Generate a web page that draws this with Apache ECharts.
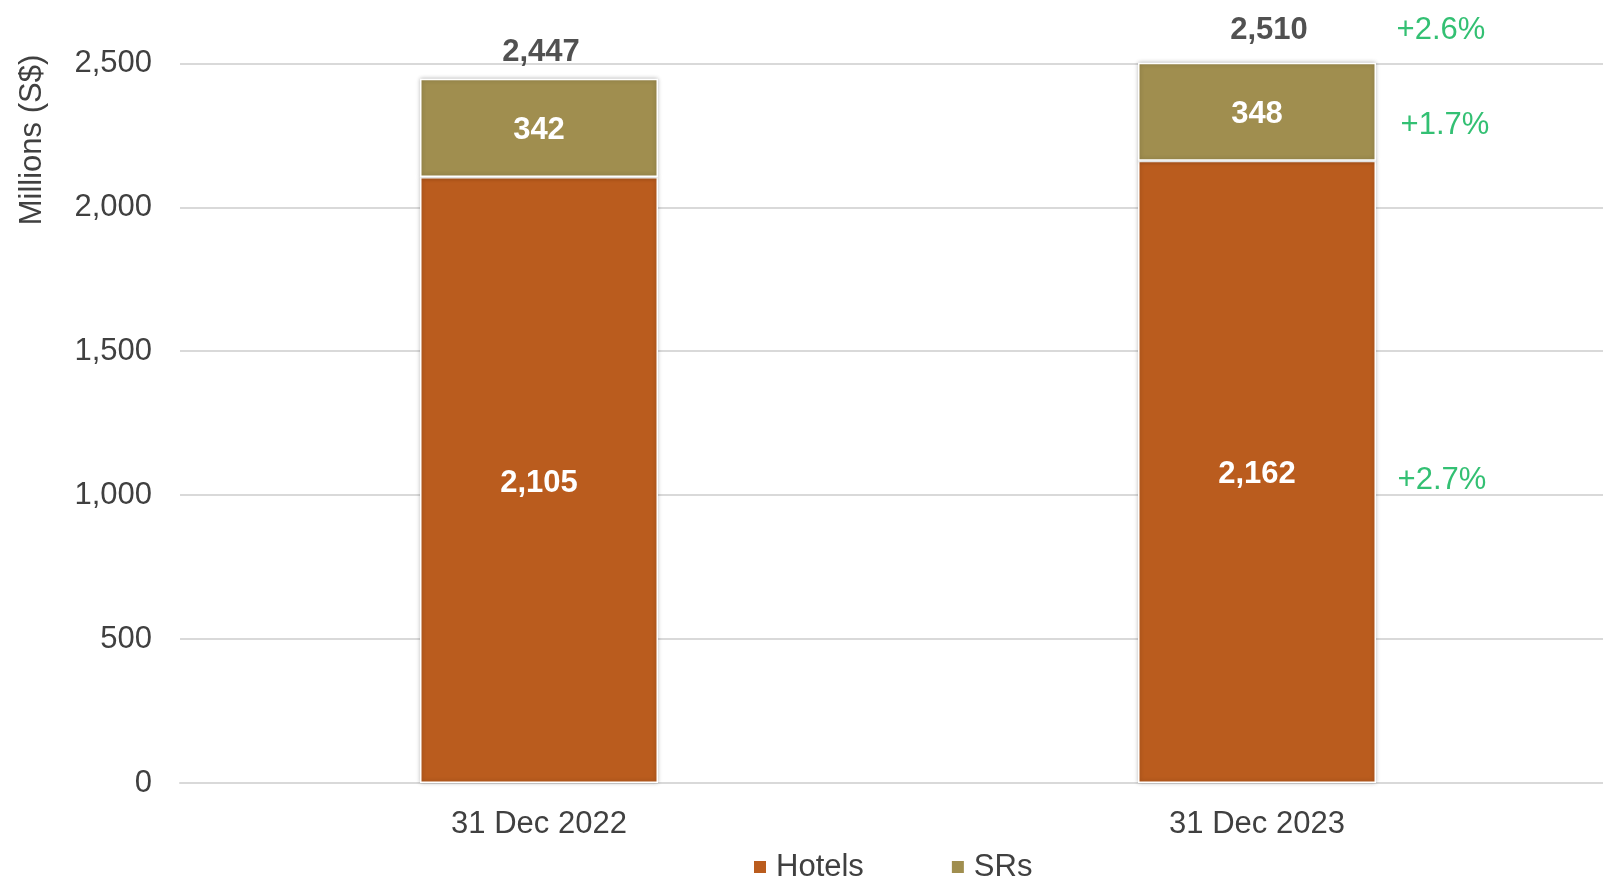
<!DOCTYPE html>
<html>
<head>
<meta charset="utf-8">
<script src="https://cdn.jsdelivr.net/npm/echarts@6/dist/echarts.min.js"></script>
<style>
html,body{margin:0;padding:0;background:#fff;}
#chart{width:1603px;height:878px;}
</style>
</head>
<body>
<div id="chart"></div>
<script>
const categories = ['31 Dec 2022', '31 Dec 2023'];
const hotels = [2105, 2162];
const srs = [342, 348];
const totals = [2447, 2510];
// changes year-on-year (shown beside the 2023 bar): Hotels, SRs, Total
const changeLabels = ['+2.7%', '+1.7%', '+2.6%'];
const yMin = 0, yMax = 2500, yInterval = 500;

const FONT = 'Liberation Sans, Arial, sans-serif';
const TXT = '#404040';
const GREEN = '#00B050';
const HOTEL_C = '#BA5C1E';
const SR_C = '#A08E4F';

const last = categories.length - 1;
const changeData = [
  { value: [categories[last], hotels[last] / 2], label: { formatter: changeLabels[0], offset: [185, 9] } },
  { value: [categories[last], hotels[last] + srs[last] / 2], label: { formatter: changeLabels[1], offset: [188, 15] } },
  { value: [categories[last], totals[last]], label: { formatter: changeLabels[2], offset: [184, 0], position: 'top', distance: 14 } }
];
const totalLabelStyles = [
  { distance: 10, offset: [2, 0] },
  { distance: 14, offset: [12, 0] }
];
const totalData = categories.map((c, i) => ({ value: [c, totals[i]], label: totalLabelStyles[i] }));

const barItemStyle = (c) => ({
  color: c, borderColor: '#ffffff', borderWidth: 1.5,
  shadowBlur: 4, shadowColor: 'rgba(0,0,0,0.25)'
});
const insideLabel = {
  show: true, position: 'inside', color: '#fff', fontWeight: 'bold', fontSize: 31, fontFamily: FONT,
  offset: [0, 3], formatter: (p) => p.value.toLocaleString('en-US')
};

const chart = echarts.init(document.getElementById('chart'), null, { renderer: 'canvas' });
chart.setOption({
  animation: false,
  backgroundColor: '#ffffff',
  textStyle: { fontFamily: FONT },
  grid: { left: 180, width: 1436, top: 63.4, bottom: 95, containLabel: false, outerBoundsMode: 'none' },
  legend: {
    data: ['Hotels', 'SRs'],
    left: 747, top: 844,
    icon: 'rect', itemWidth: 14, itemHeight: 14, itemGap: 86,
    textStyle: { fontSize: 31, color: TXT, fontFamily: FONT, padding: [0, 0, 0, 4], lineHeight: 36 }
  },
  xAxis: {
    type: 'category', data: categories,
    axisLine: { show: true, lineStyle: { color: '#D9D9D9', width: 2 } },
    axisTick: { show: false },
    axisLabel: { fontSize: 31, color: TXT, fontFamily: FONT, margin: 26, lineHeight: 31 }
  },
  yAxis: {
    type: 'value', min: yMin, max: yMax, interval: yInterval,
    axisLine: { show: false }, axisTick: { show: false },
    splitLine: { lineStyle: { color: '#D9D9D9', width: 2 } },
    axisLabel: {
      fontSize: 31, color: TXT, fontFamily: FONT, margin: 28,
      formatter: (v) => v.toLocaleString('en-US')
    }
  },
  graphic: [{
    type: 'text', x: 32, y: 140, rotation: Math.PI / 2,
    style: { text: 'Millions (S$)', fontSize: 31, fontFamily: FONT, fill: TXT, align: 'center', verticalAlign: 'middle' }
  }],
  series: [
    {
      name: 'Hotels', type: 'bar', stack: 'total', data: hotels, barWidth: 238,
      itemStyle: barItemStyle(HOTEL_C), label: insideLabel
    },
    {
      name: 'SRs', type: 'bar', stack: 'total', data: srs, barWidth: 238,
      itemStyle: barItemStyle(SR_C), label: insideLabel
    },
    {
      name: 'Total', type: 'scatter', clip: false, silent: true,
      data: totalData,
      symbolSize: 1, itemStyle: { color: 'rgba(0,0,0,0)' },
      label: { show: true, position: 'top', color: '#262626', fontWeight: 'bold', fontSize: 31, fontFamily: FONT,
        formatter: (p) => p.value[1].toLocaleString('en-US') }
    },
    {
      name: 'Change', type: 'scatter', clip: false, silent: true,
      data: changeData,
      symbolSize: 1, itemStyle: { color: 'rgba(0,0,0,0)' },
      label: { show: true, position: 'inside', color: GREEN, fontSize: 31, fontFamily: FONT }
    }
  ]
});
</script>
</body>
</html>
